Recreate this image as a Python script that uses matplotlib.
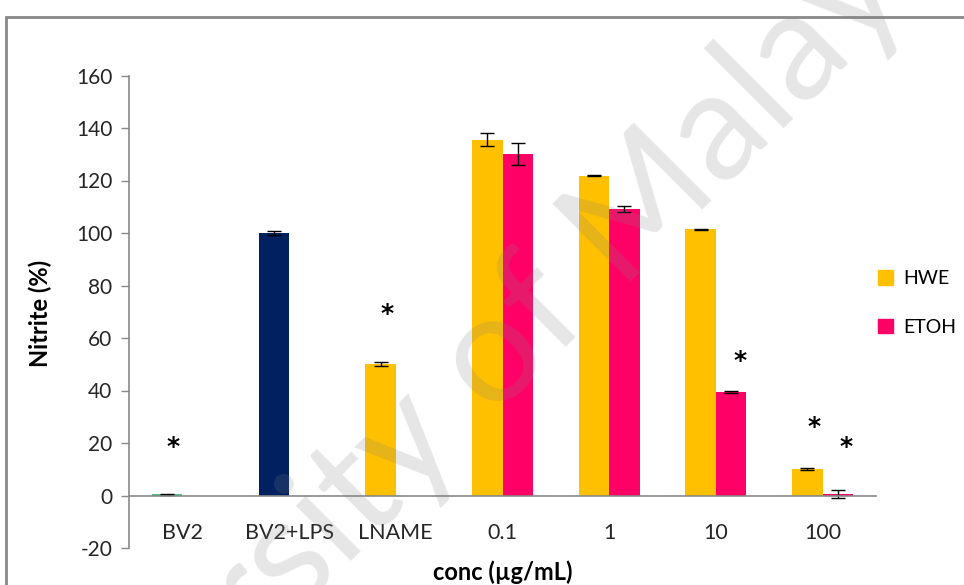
import numpy as np
import matplotlib
matplotlib.use("Agg")
import matplotlib.pyplot as plt
from matplotlib.patches import Rectangle, Patch

plt.rcParams['font.family'] = ['Lato', 'DejaVu Sans']
plt.rcParams['axes.unicode_minus'] = False

categories = ["BV2", "BV2+LPS", "LNAME", "0.1", "1", "10", "100"]
hwe_values = [0.5, 100.0, 50.2, 135.5, 121.8, 101.4, 10.2]
hwe_errors = [0.2, 0.7, 0.8, 2.5, 0.2, 0.3, 0.3]
hwe_colors = ["#4CC08A", "#002060", "#FFC000", "#FFC000", "#FFC000", "#FFC000", "#FFC000"]
etoh_values = [np.nan, np.nan, np.nan, 130.1, 109.2, 39.5, 0.5]
etoh_errors = [np.nan, np.nan, np.nan, 4.2, 1.1, 0.3, 1.5]
# significance markers: (category index, series, height)
sig_cat = [0, 2, 5, 6, 6]
sig_series = ["HWE", "HWE", "ETOH", "HWE", "ETOH"]
sig_height = [20, 70.7, 52.8, 27.6, 20]
yticks = [-20, 0, 20, 40, 60, 80, 100, 120, 140, 160]

W, H = 964, 585
fig = plt.figure(figsize=(W / 100, H / 100), dpi=100)
ax = fig.add_axes([129 / W, (H - 548) / H, (876 - 129) / W, (548 - 75.5) / H])

x = np.arange(len(categories))
w = 1 / 3.5
ekw = dict(ecolor="black", elinewidth=1.0, capsize=5, capthick=1.0)
ax.bar(x - w / 2, hwe_values, w, color=hwe_colors, yerr=hwe_errors, error_kw=ekw, zorder=2)
ax.bar(x + w / 2, etoh_values, w, color="#FF0066", yerr=etoh_errors, error_kw=ekw, zorder=2)

for c, s, h in zip(sig_cat, sig_series, sig_height):
    xo = c - w / 2 + 0.06 if s == "HWE" else c + w / 2 + 0.08
    ax.annotate("*", (xo, h), xytext=(0, -3), textcoords="offset points",
                ha="center", va="center", fontsize=18, fontweight="bold", color="black",
                family="DejaVu Sans")

ax.set_xlim(-0.5, len(categories) - 0.5)
ax.set_ylim(-20, 160)
ax.set_yticks(yticks)
ax.set_xticks(x)
ax.set_xticklabels(categories)
ax.tick_params(axis="x", length=0, pad=20, labelsize=15.5, colors="#262626")
ax.tick_params(axis="y", length=6, width=1, color="#898989", labelsize=15, labelcolor="#262626", pad=6)
for s in ["top", "right"]:
    ax.spines[s].set_visible(False)
ax.spines["bottom"].set_position(("data", 0))
ax.spines["bottom"].set_color("#898989")
ax.spines["left"].set_color("#898989")
ax.spines["bottom"].set_linewidth(1.2)
ax.spines["left"].set_linewidth(1.2)

fig.text(40 / W, 1 - 313 / H, "Nitrite (%)", rotation=90, ha="center", va="center",
         fontsize=17, fontweight="bold", color="black")
fig.text(503 / W, 1 - 572 / H, "conc (µg/mL)", ha="center", va="center",
         fontsize=17, fontweight="bold", color="black")

handles = [Patch(color="#FFC000", label="HWE"), Patch(color="#FF0066", label="ETOH")]
fig.legend(handles=handles, loc="center left", bbox_to_anchor=(860 / W, 1 - 303 / H),
           frameon=False, fontsize=14, handlelength=0.8, handleheight=0.8,
           labelspacing=1.6, handletextpad=0.5)

fig.patches.append(Rectangle((6 / W, -0.1), 1.2, (H - 17) / H + 0.1, transform=fig.transFigure,
                             fill=False, edgecolor="#888888", linewidth=2, zorder=0))

fig.text(440 / W, 1 - 410 / H, "University of Malaya", rotation=45, rotation_mode="anchor",
         ha="center", va="center", fontsize=111, color="#808080", alpha=0.2, zorder=10)

fig.savefig("out.png", dpi=100)
